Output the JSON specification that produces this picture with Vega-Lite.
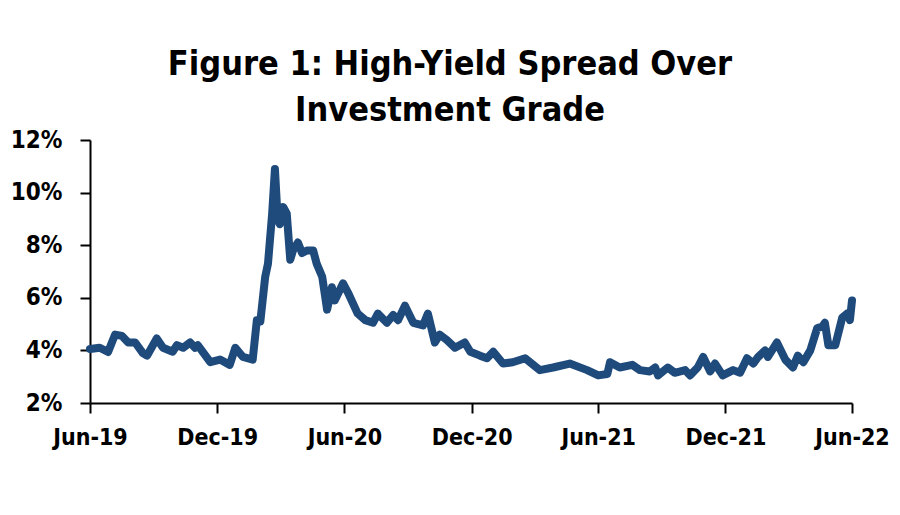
{
  "$schema": "https://vega.github.io/schema/vega-lite/v6.json",
  "autosize": {"type": "none"},
  "width": 762,
  "height": 263,
  "padding": {"left": 90, "top": 140, "right": 48, "bottom": 112},
  "background": "white",
  "config": {"view": {"stroke": null}, "font": "DejaVu Sans Condensed, Roboto, sans-serif"},
  "title": {
    "text": ["Figure 1: High-Yield Spread Over", "Investment Grade"],
    "font": "DejaVu Sans Condensed, Roboto, sans-serif",
    "fontWeight": "bold",
    "fontSize": 34,
    "lineHeight": 46,
    "color": "black",
    "anchor": "middle",
    "frame": "group",
    "dx": -21,
    "offset": 0
  },
  "data": {"values": [
    {"date": "2019-06-01", "spread": 4.05},
    {"date": "2019-06-15", "spread": 4.1},
    {"date": "2019-06-27", "spread": 3.94},
    {"date": "2019-07-07", "spread": 4.6},
    {"date": "2019-07-17", "spread": 4.55},
    {"date": "2019-07-26", "spread": 4.3},
    {"date": "2019-08-05", "spread": 4.3},
    {"date": "2019-08-16", "spread": 3.9},
    {"date": "2019-08-22", "spread": 3.8},
    {"date": "2019-09-05", "spread": 4.45},
    {"date": "2019-09-14", "spread": 4.1},
    {"date": "2019-09-28", "spread": 3.95},
    {"date": "2019-10-04", "spread": 4.2},
    {"date": "2019-10-13", "spread": 4.1},
    {"date": "2019-10-23", "spread": 4.3},
    {"date": "2019-10-30", "spread": 4.1},
    {"date": "2019-11-03", "spread": 4.2},
    {"date": "2019-11-21", "spread": 3.55},
    {"date": "2019-12-05", "spread": 3.65},
    {"date": "2019-12-19", "spread": 3.45},
    {"date": "2019-12-27", "spread": 4.1},
    {"date": "2020-01-07", "spread": 3.75},
    {"date": "2020-01-21", "spread": 3.65},
    {"date": "2020-01-27", "spread": 5.15},
    {"date": "2020-02-01", "spread": 5.1},
    {"date": "2020-02-08", "spread": 6.8},
    {"date": "2020-02-12", "spread": 7.3},
    {"date": "2020-02-18", "spread": 9.2},
    {"date": "2020-02-22", "spread": 10.9},
    {"date": "2020-02-26", "spread": 8.95},
    {"date": "2020-02-29", "spread": 8.8},
    {"date": "2020-03-05", "spread": 9.45},
    {"date": "2020-03-10", "spread": 9.2},
    {"date": "2020-03-15", "spread": 7.45},
    {"date": "2020-03-19", "spread": 7.8},
    {"date": "2020-03-26", "spread": 8.1},
    {"date": "2020-04-01", "spread": 7.7},
    {"date": "2020-04-08", "spread": 7.8},
    {"date": "2020-04-17", "spread": 7.8},
    {"date": "2020-04-22", "spread": 7.3},
    {"date": "2020-04-30", "spread": 6.8},
    {"date": "2020-05-07", "spread": 5.55},
    {"date": "2020-05-14", "spread": 6.4},
    {"date": "2020-05-18", "spread": 5.9},
    {"date": "2020-05-30", "spread": 6.55},
    {"date": "2020-06-06", "spread": 6.2},
    {"date": "2020-06-20", "spread": 5.4},
    {"date": "2020-07-01", "spread": 5.15},
    {"date": "2020-07-12", "spread": 5.05},
    {"date": "2020-07-19", "spread": 5.4},
    {"date": "2020-08-01", "spread": 5.05},
    {"date": "2020-08-10", "spread": 5.35},
    {"date": "2020-08-17", "spread": 5.15},
    {"date": "2020-08-27", "spread": 5.7},
    {"date": "2020-09-08", "spread": 5.05},
    {"date": "2020-09-22", "spread": 4.95},
    {"date": "2020-09-29", "spread": 5.4},
    {"date": "2020-10-09", "spread": 4.3},
    {"date": "2020-10-16", "spread": 4.6},
    {"date": "2020-10-26", "spread": 4.4},
    {"date": "2020-11-07", "spread": 4.1},
    {"date": "2020-11-21", "spread": 4.3},
    {"date": "2020-11-29", "spread": 3.95},
    {"date": "2020-12-13", "spread": 3.8},
    {"date": "2020-12-23", "spread": 3.7},
    {"date": "2021-01-01", "spread": 3.95},
    {"date": "2021-01-15", "spread": 3.5},
    {"date": "2021-01-29", "spread": 3.55},
    {"date": "2021-02-16", "spread": 3.7},
    {"date": "2021-03-09", "spread": 3.25},
    {"date": "2021-03-28", "spread": 3.35},
    {"date": "2021-04-21", "spread": 3.5},
    {"date": "2021-05-16", "spread": 3.25},
    {"date": "2021-06-01", "spread": 3.05},
    {"date": "2021-06-14", "spread": 3.1},
    {"date": "2021-06-18", "spread": 3.55},
    {"date": "2021-07-02", "spread": 3.35},
    {"date": "2021-07-20", "spread": 3.45},
    {"date": "2021-07-31", "spread": 3.25},
    {"date": "2021-08-14", "spread": 3.2},
    {"date": "2021-08-22", "spread": 3.35},
    {"date": "2021-08-26", "spread": 3.05},
    {"date": "2021-09-09", "spread": 3.35},
    {"date": "2021-09-19", "spread": 3.15},
    {"date": "2021-10-04", "spread": 3.25},
    {"date": "2021-10-11", "spread": 3.05},
    {"date": "2021-10-22", "spread": 3.35},
    {"date": "2021-10-30", "spread": 3.75},
    {"date": "2021-11-09", "spread": 3.2},
    {"date": "2021-11-16", "spread": 3.5},
    {"date": "2021-11-27", "spread": 3.05},
    {"date": "2021-12-12", "spread": 3.25},
    {"date": "2021-12-22", "spread": 3.15},
    {"date": "2022-01-01", "spread": 3.7},
    {"date": "2022-01-10", "spread": 3.5},
    {"date": "2022-01-17", "spread": 3.75},
    {"date": "2022-01-27", "spread": 4.0},
    {"date": "2022-01-31", "spread": 3.75},
    {"date": "2022-02-13", "spread": 4.3},
    {"date": "2022-02-25", "spread": 3.65},
    {"date": "2022-03-08", "spread": 3.35},
    {"date": "2022-03-15", "spread": 3.8},
    {"date": "2022-03-23", "spread": 3.55},
    {"date": "2022-04-02", "spread": 4.0},
    {"date": "2022-04-12", "spread": 4.85},
    {"date": "2022-04-19", "spread": 4.9},
    {"date": "2022-04-23", "spread": 5.05},
    {"date": "2022-04-28", "spread": 4.2},
    {"date": "2022-05-08", "spread": 4.2},
    {"date": "2022-05-18", "spread": 5.25},
    {"date": "2022-05-25", "spread": 5.4},
    {"date": "2022-05-29", "spread": 5.15},
    {"date": "2022-06-01", "spread": 5.9}
  ]},
  "mark": {"type": "line", "color": "#1f4a7c", "strokeWidth": 8, "strokeCap": "round", "strokeJoin": "round", "clip": false},
  "encoding": {
    "x": {
      "field": "date",
      "type": "temporal",
      "scale": {"type": "utc", "domain": [{"year": 2019, "month": 6, "date": 1, "utc": true}, {"year": 2022, "month": 6, "date": 1, "utc": true}], "nice": false},
      "axis": {
        "title": null,
        "values": [
          {"year": 2019, "month": 6, "date": 1, "utc": true},
          {"year": 2019, "month": 12, "date": 1, "utc": true},
          {"year": 2020, "month": 6, "date": 1, "utc": true},
          {"year": 2020, "month": 12, "date": 1, "utc": true},
          {"year": 2021, "month": 6, "date": 1, "utc": true},
          {"year": 2021, "month": 12, "date": 1, "utc": true},
          {"year": 2022, "month": 6, "date": 1, "utc": true}
        ],
        "format": "%b-%y",
        "grid": false,
        "domainColor": "black",
        "domainWidth": 2,
        "tickColor": "black",
        "tickWidth": 2,
        "tickSize": 10,
        "labelFont": "DejaVu Sans Condensed, Roboto, sans-serif",
        "labelFontWeight": "bold",
        "labelFontSize": 23,
        "labelColor": "black",
        "labelPadding": 13,
        "labelFlush": false,
        "labelOverlap": false
      }
    },
    "y": {
      "field": "spread",
      "type": "quantitative",
      "scale": {"domain": [2, 12], "nice": false, "zero": false},
      "axis": {
        "title": null,
        "values": [2, 4, 6, 8, 10, 12],
        "labelExpr": "datum.value + '%'",
        "grid": false,
        "domainColor": "black",
        "domainWidth": 2,
        "tickColor": "black",
        "tickWidth": 2,
        "tickSize": 10,
        "labelFont": "DejaVu Sans Condensed, Roboto, sans-serif",
        "labelFontWeight": "bold",
        "labelFontSize": 24,
        "labelColor": "black",
        "labelPadding": 18,
        "labelFlush": false,
        "labelOverlap": false
      }
    }
  }
}
